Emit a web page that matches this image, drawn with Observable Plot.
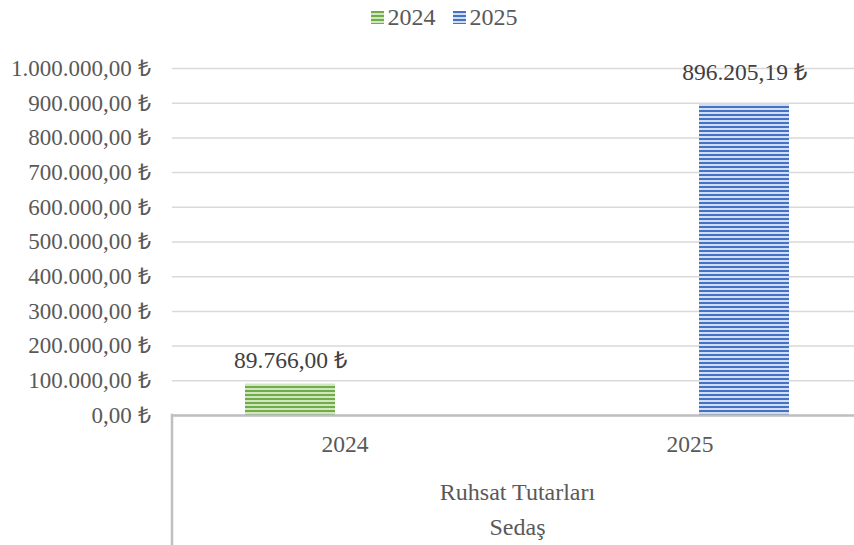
<!DOCTYPE html>
<html>
<head>
<meta charset="utf-8">
<script src="https://cdn.jsdelivr.net/npm/d3@7"></script>
<script src="https://cdn.jsdelivr.net/npm/@observablehq/plot@0.6"></script>
<style>
  html, body { margin: 0; padding: 0; background: #ffffff; overflow: hidden; }
  body { font-family: "Liberation Serif", serif; width: 854px; height: 545px; }
  #legend { width: 854px; height: 34px; box-sizing: border-box; padding-left: 34px; display: flex; justify-content: center; align-items: center; font-size: 24px; color: #595959; font-family: "Liberation Serif", serif; }
  .item { display: flex; align-items: center; margin: 0 8.5px; }
  .sw { width: 13px; height: 13px; margin-right: 4px; }
  #chart svg { display: block; overflow: hidden; }
  #chart svg text { font-family: "Liberation Serif", serif; }
</style>
</head>
<body>
<div id="legend"></div>
<div id="chart"></div>
<script>
// ---- data ----
const categories = ["2024", "2025"];
const series = ["2024", "2025"];
const values = [89766.00, 896205.19];
const groupLabel = "Ruhsat Tutarları";
const superLabel = "Sedaş";
const yTicks = [0, 100000, 200000, 300000, 400000, 500000, 600000, 700000, 800000, 900000, 1000000];

const data = categories.map((c, i) => ({category: c, series: series[i], value: values[i]}));

// ---- styling ----
const stripeDark = {"2024": "#70ad47", "2025": "#4472c4"};
const stripeLight = {"2024": "#cfe6c0", "2025": "#d3ddf1"};
const FONT = "Liberation Serif, serif";

const tr = d3.formatLocale({decimal: ",", thousands: ".", grouping: [3], currency: ["", ""]});
const num = tr.format(",.2f");
const fmt = v => num(v) + " \u20BA";

// legend
const legend = d3.select("#legend");
series.forEach(s => {
  const it = legend.append("div").attr("class", "item");
  it.append("div").attr("class", "sw")
    .style("background", `repeating-linear-gradient(to bottom, ${stripeDark[s]} 0px, ${stripeDark[s]} 2px, ${stripeLight[s]} 2px, ${stripeLight[s]} 4px)`);
  it.append("span").style("font-family", FONT).text(s);
});

const W = 854, H = 511, mL = 172, mR = -8, mT = 34, mB = 130;

const chart = Plot.plot({
  width: W, height: H,
  marginLeft: mL, marginRight: mR, marginTop: mT, marginBottom: mB,
  style: {fontFamily: FONT, fontSize: "23px", color: "#595959", background: "transparent"},
  fx: {domain: categories, padding: 0, label: null},
  x: {domain: series, paddingInner: 0.173, paddingOuter: 0.655, axis: null},
  y: {domain: [0, 1000000], label: null},
  color: {domain: series, range: series.map(s => `url(#stripe-${s})`)},
  marks: [
    Plot.gridY(yTicks, {stroke: "#d9d9d9", strokeOpacity: 1, strokeWidth: 1.5}),
    Plot.axisY(yTicks, {tickSize: 0, tickPadding: 22, tickFormat: fmt, fontSize: 23, fill: "#595959", label: null}),
    Plot.axisFx({anchor: "bottom", tickSize: 0, tickPadding: 20, fontSize: 23.5, fill: "#595959", label: null}),
    Plot.barY(data, {fx: "category", x: "series", y: "value", fill: "series"}),
    Plot.ruleY([0], {stroke: "#bfbfbf", strokeWidth: 2.5}),
    Plot.text(data.filter(d => d.series === "2024"), {fx: "category", x: "series", y: "value", text: d => fmt(d.value), dy: -24, fontSize: 23.5, fill: "#404040"}),
    Plot.text(data.filter(d => d.series === "2025"), {fx: "category", x: "series", y: "value", text: d => fmt(d.value), dy: -32, fontSize: 23.5, fill: "#404040"}),
    Plot.text([groupLabel], {facet: "super", frameAnchor: "bottom", lineAnchor: "middle", dy: 77, fontSize: 24, fill: "#595959"}),
    Plot.text([superLabel], {facet: "super", frameAnchor: "bottom", lineAnchor: "middle", dy: 112, fontSize: 24, fill: "#595959"})
  ]
});

const svg = d3.select(chart);
svg.style("font-family", FONT);
svg.selectAll("text").attr("font-family", FONT).style("font-family", FONT);
const defs = svg.insert("defs", ":first-child");
series.forEach(s => {
  const p = defs.append("pattern").attr("id", `stripe-${s}`)
    .attr("patternUnits", "userSpaceOnUse").attr("width", 4).attr("height", 4);
  p.append("rect").attr("width", 4).attr("height", 4).attr("fill", stripeLight[s]);
  p.append("rect").attr("width", 4).attr("height", 2).attr("fill", stripeDark[s]);
});
// left vertical boundary of the category axis, from the baseline to the bottom
const y0 = chart.scale("y").apply(0);
svg.append("line").attr("x1", mL).attr("x2", mL).attr("y1", y0 - 1.25).attr("y2", H)
  .attr("stroke", "#bfbfbf").attr("stroke-width", 2.5);

document.getElementById("chart").appendChild(chart);
</script>
</body>
</html>
